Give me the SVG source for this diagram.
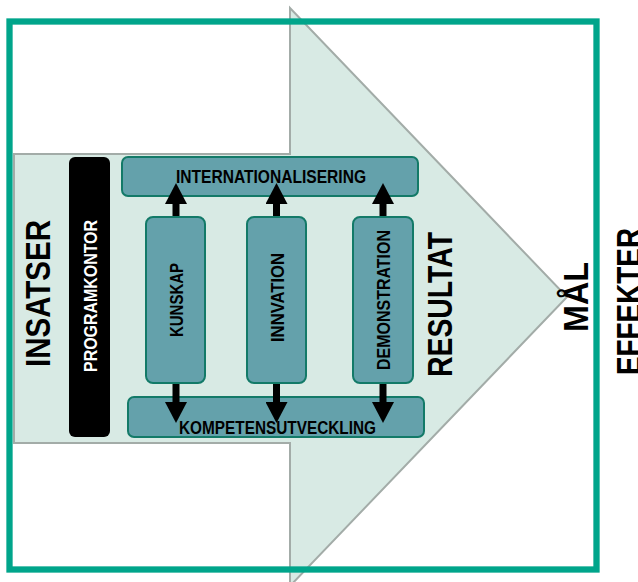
<svg xmlns="http://www.w3.org/2000/svg" width="638" height="582" viewBox="0 0 638 582">
<style>
.lbl{font-family:"Liberation Sans",Arial,sans-serif;font-weight:bold;fill:#000}
.sm{font-size:18px}
.big{font-size:35px}
.box{fill:#64a1ab;stroke:#137a68;stroke-width:2}
.conn{stroke:#000;stroke-width:7;fill:none}
</style>
<defs>
<marker id="ah" viewBox="0 0 21 22" refX="0" refY="11" markerWidth="21" markerHeight="22" markerUnits="userSpaceOnUse" orient="auto-start-reverse">
<path d="M0,0 L21,11 L0,22 Z" fill="#000"/>
</marker>
</defs>
<rect width="638" height="582" fill="#fff"/>
<g id="arrow">
<polygon points="14,154 290,154 290,8 567,297 290,586 290,443 14,443" fill="#d8eae4" stroke="#a3aca8" stroke-width="2"/>
</g>
<g id="frame">
<rect x="9.5" y="21.5" width="587" height="548" fill="none" stroke="#00a58b" stroke-width="6.3"/>
</g>
<g id="insatser"><text class="lbl big" transform="translate(50,293.5) rotate(-90)" text-anchor="middle" textLength="147" lengthAdjust="spacingAndGlyphs">INSATSER</text></g>
<g id="programkontor">
<rect x="69" y="157" width="41" height="280" rx="6" fill="#000"/>
<text class="lbl sm" style="fill:#fff" transform="translate(97,296) rotate(-90)" text-anchor="middle" textLength="152" lengthAdjust="spacingAndGlyphs">PROGRAMKONTOR</text>
</g>
<g id="internationalisering">
<rect class="box" x="122" y="157" width="296" height="39" rx="6"/>
<text class="lbl sm" x="271" y="183" text-anchor="middle" textLength="190" lengthAdjust="spacingAndGlyphs">INTERNATIONALISERING</text>
</g>
<g id="kompetensutveckling">
<rect class="box" x="128" y="397" width="296" height="40" rx="6"/>
<text class="lbl sm" x="277.5" y="434" text-anchor="middle" textLength="197" lengthAdjust="spacingAndGlyphs">KOMPETENSUTVECKLING</text>
</g>
<g id="connectors">
<line class="conn" x1="176" y1="204" x2="176" y2="402" marker-start="url(#ah)" marker-end="url(#ah)"/>
<line class="conn" x1="276.5" y1="204" x2="276.5" y2="402" marker-start="url(#ah)" marker-end="url(#ah)"/>
<line class="conn" x1="383" y1="204" x2="383" y2="402" marker-start="url(#ah)" marker-end="url(#ah)"/>
</g>
<g id="kunskap">
<rect class="box" x="146" y="217" width="59" height="166" rx="7"/>
<text class="lbl sm" transform="translate(183,300) rotate(-90)" text-anchor="middle" textLength="74" lengthAdjust="spacingAndGlyphs">KUNSKAP</text>
</g>
<g id="innvation">
<rect class="box" x="247" y="217" width="59" height="166" rx="7"/>
<text class="lbl sm" transform="translate(283.5,297.5) rotate(-90)" text-anchor="middle" textLength="89" lengthAdjust="spacingAndGlyphs">INNVATION</text>
</g>
<g id="demonstration">
<rect class="box" x="353" y="217" width="60" height="166" rx="7"/>
<text class="lbl sm" transform="translate(390,300) rotate(-90)" text-anchor="middle" textLength="140" lengthAdjust="spacingAndGlyphs">DEMONSTRATION</text>
</g>
<g id="resultat"><text class="lbl big" transform="translate(452,304.5) rotate(-90)" text-anchor="middle" textLength="145" lengthAdjust="spacingAndGlyphs">RESULTAT</text></g>
<g id="mal"><text class="lbl big" transform="translate(588,297) rotate(-90)" text-anchor="middle" textLength="70" lengthAdjust="spacingAndGlyphs">MÅL</text></g>
<g id="effekter"><text class="lbl big" transform="translate(641,301.5) rotate(-90)" text-anchor="middle" textLength="147" lengthAdjust="spacingAndGlyphs">EFFEKTER</text></g>
</svg>
